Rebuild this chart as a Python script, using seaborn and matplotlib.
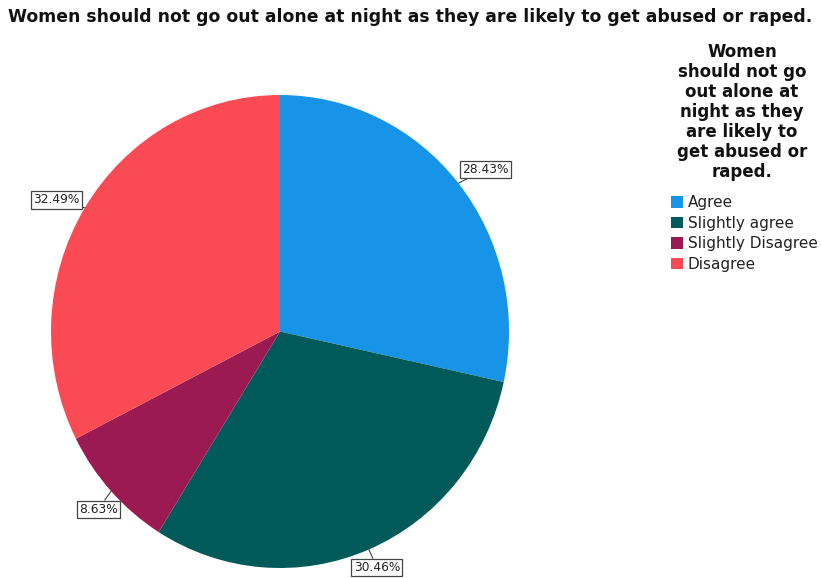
import matplotlib
matplotlib.use("Agg")
import matplotlib.pyplot as plt
import numpy as np
import seaborn as sns
from matplotlib.patches import Patch

# Survey responses
title = "Women should not go out alone at night as they are likely to get abused or raped."
legend_title = "Women\nshould not go\nout alone at\nnight as they\nare likely to\nget abused or\nraped."
categories = ["Agree", "Slightly agree", "Slightly Disagree", "Disagree"]
percentages = [28.43, 30.46, 8.63, 32.49]
colors = ["#1793E8", "#005A5A", "#9C1A52", "#FA4B55"]

sns.set_theme(style="white")
plt.rcParams["font.family"] = ["DejaVu Sans"]

W, H = 821, 578
fig = plt.figure(figsize=(W / 100, H / 100), dpi=100)
# axes box spans the pie exactly
ax = fig.add_axes([51 / W, (H - 568) / H, 458 / W, 473 / H])

palette = sns.color_palette(colors)
wedges, _ = ax.pie(percentages, colors=palette, startangle=90, counterclock=False,
                   radius=1, wedgeprops=dict(linewidth=0))
ax.set_xlim(-1, 1)
ax.set_ylim(-1, 1)
ax.set_aspect("auto")
ax.axis("off")

# label offsets (pixels) from the wedge edge
offsets = [(27, 14), (8, -18), (-13, -18), (-28, 8)]
for w, pct, (dx, dy) in zip(wedges, percentages, offsets):
    ang = np.deg2rad((w.theta1 + w.theta2) / 2)
    ax.annotate(f"{pct:.2f}%", xy=(np.cos(ang), np.sin(ang)), xytext=(dx, dy),
                textcoords="offset pixels", ha="center", va="center",
                fontsize=8.8, color="#222222",
                bbox=dict(boxstyle="square,pad=0.18", fc="white", ec="#444444", lw=0.9),
                arrowprops=dict(arrowstyle="-", color="#444444", lw=0.8,
                                shrinkA=0, shrinkB=0))

fig.text(410 / W, 1 - 8 / H, title, ha="center", va="top", fontsize=12.4,
         fontweight="bold", color="#111111")

# legend: bold centred heading, then colour swatches
fig.text(742 / W, 1 - 43 / H, legend_title, ha="center", va="top", fontsize=12,
         fontweight="bold", linespacing=1.14, multialignment="center", color="#111111")

handles = [Patch(facecolor=c, edgecolor="none") for c in colors]
fig.legend(handles, categories, loc="upper left", bbox_to_anchor=(671 / W, 1 - 195 / H),
           frameon=False, fontsize=11, handlelength=0.8, handleheight=0.8,
           handletextpad=0.3, labelspacing=0.37, borderpad=0, borderaxespad=0,
           labelcolor="#222222")

fig.savefig("out.png", dpi=100)
